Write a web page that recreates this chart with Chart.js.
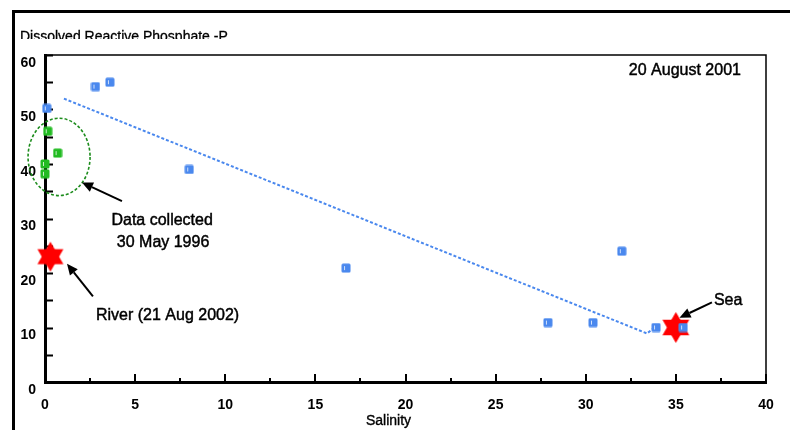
<!DOCTYPE html>
<html>
<head>
<meta charset="utf-8">
<title>Dissolved Reactive Phosphate -P</title>
<script src="https://cdn.jsdelivr.net/npm/chart.js@4.4.1/dist/chart.umd.min.js"></script>
<style>
  html, body { margin: 0; padding: 0; background: #fff; }
  #wrap { position: relative; width: 790px; height: 430px; }
</style>
</head>
<body>
<div id="wrap"><canvas id="chart" width="790" height="430"></canvas></div>
<script>
// 20 Aug 2001 survey: salinity vs dissolved reactive phosphate
const augSalinity  = [0.1, 2.8, 3.6, 8.0, 16.7, 27.9, 30.4, 32.0, 33.9, 35.4];
const augPhosphate = [50.2, 54.2, 55.0, 39.0, 20.9, 10.9, 10.9, 24.0, 10.0, 10.0];

// older samples, 30 May 1996
const maySalinity  = [0.15, 0.7, 0.0, 0.0];
const mayPhosphate = [46.0, 42.0, 40.0, 38.2];

// end members
const riverPoint = [0.3, 23.0];
const seaPoint   = [35.0, 10.0];

// mixing line
const trendSalinity  = [1.05, 33.4, 33.7];
const trendPhosphate = [52.0, 8.9, 9.7];

const xTickValues = [0, 5, 10, 15, 20, 25, 30, 35, 40];
const yTickValues = [0, 10, 20, 30, 40, 50, 60];

// annotation anchors in data units
const mayRing = { x: 0.78, y: 41.3, rx: 1.72, ry: 7.1 };
const arrows = [
  { from: [4.27, 33.2], to: [2.05, 36.6] },
  { from: [2.66, 15.7], to: [1.22, 21.7] },
  { from: [37.0, 14.6], to: [35.2, 11.8] }
];
const notes = [
  { text: 'Data collected', x: 6.5, y: 29.7 },
  { text: '30 May 1996', x: 6.55, y: 25.5 },
  { text: 'River (21 Aug 2002)', x: 6.8, y: 12.1 },
  { text: 'Sea', x: 37.9, y: 14.9 },
  { text: '20 August 2001', x: 35.5, y: 57.1 }
];

const FONT = '"Liberation Sans", Arial, sans-serif';
const BLUE = '#4a88ee';
const GREEN = '#22bb22';

function toXY(xs, ys) {
  return xs.map((x, i) => ({ x, y: ys[i] }));
}

// little rounded square with a pale highlight stroke
function squareMarker(color) {
  const c = document.createElement('canvas');
  c.width = 10; c.height = 10;
  const g = c.getContext('2d');
  g.fillStyle = color;
  g.beginPath();
  g.roundRect(0.5, 0.5, 9, 9, 1.5);
  g.fill();
  g.fillStyle = 'rgba(255,255,255,0.75)';
  g.fillRect(3, 3, 1, 4);
  return c;
}

// six-pointed star
function hexagram(r, color) {
  const c = document.createElement('canvas');
  const s = Math.ceil(r * 2 + 2);
  c.width = s; c.height = s;
  const g = c.getContext('2d');
  g.fillStyle = color;
  const cx = s / 2, cy = s / 2;
  [Math.PI / 2, -Math.PI / 2].forEach(start => {
    g.beginPath();
    for (let k = 0; k < 3; k++) {
      const a = start + k * 2 * Math.PI / 3;
      const px = cx + r * Math.cos(a), py = cy - r * Math.sin(a);
      k === 0 ? g.moveTo(px, py) : g.lineTo(px, py);
    }
    g.closePath();
    g.fill();
  });
  return c;
}

function drawArrow(ctx, x1, y1, x2, y2) {
  const ang = Math.atan2(y2 - y1, x2 - x1);
  const len = 11, half = 5;
  const bx = x2 - len * Math.cos(ang), by = y2 - len * Math.sin(ang);
  ctx.strokeStyle = '#000';
  ctx.lineWidth = 2;
  ctx.beginPath();
  ctx.moveTo(x1, y1);
  ctx.lineTo(bx, by);
  ctx.stroke();
  ctx.fillStyle = '#000';
  ctx.beginPath();
  ctx.moveTo(x2, y2);
  ctx.lineTo(bx + half * Math.sin(ang), by - half * Math.cos(ang));
  ctx.lineTo(bx - half * Math.sin(ang), by + half * Math.cos(ang));
  ctx.closePath();
  ctx.fill();
}

// slightly heavier text than the plain face
function heavyText(ctx, text, x, y) {
  ctx.fillText(text, x, y);
  ctx.strokeText(text, x, y);
}

const decorations = {
  id: 'decorations',
  beforeDraw(chart) {
    const ctx = chart.ctx;
    ctx.save();
    // outer frame (left + top)
    ctx.strokeStyle = '#000';
    ctx.lineWidth = 3;
    ctx.beginPath();
    ctx.moveTo(13.5, 430);
    ctx.lineTo(13.5, 11.5);
    ctx.lineTo(790, 11.5);
    ctx.stroke();
    // title, its lower edge cut off
    ctx.beginPath();
    ctx.rect(0, 0, 790, 39);
    ctx.clip();
    ctx.fillStyle = '#000';
    ctx.lineWidth = 0.3;
    ctx.font = '14px ' + FONT;
    ctx.textAlign = 'left';
    ctx.textBaseline = 'alphabetic';
    heavyText(ctx, 'Dissolved Reactive Phosphate -P', 20, 40.5);
    ctx.restore();
  },
  beforeDatasetsDraw(chart) {
    const { ctx, chartArea: a, scales: { x, y } } = chart;
    ctx.save();
    // thin top/right frame
    ctx.strokeStyle = '#000';
    ctx.lineWidth = 1.5;
    ctx.beginPath();
    ctx.moveTo(a.left, a.top);
    ctx.lineTo(a.right, a.top);
    ctx.lineTo(a.right, a.bottom);
    ctx.stroke();
    // tick marks: y every 5 inward, x majors + minors
    ctx.lineWidth = 2;
    ctx.beginPath();
    for (let v = 5; v <= 60; v += 5) {
      const py = Math.round(y.getPixelForValue(v)) + 0.5;
      ctx.moveTo(a.left, py);
      ctx.lineTo(a.left + 8, py);
    }
    for (let v = 2.5; v <= 40; v += 2.5) {
      const px = Math.round(x.getPixelForValue(v));
      const major = v % 5 === 0;
      ctx.moveTo(px, a.bottom - (major ? 8 : 4));
      ctx.lineTo(px, a.bottom + (major ? 2 : 1));
    }
    ctx.stroke();
    // dashed ring round the 1996 samples
    const cx = x.getPixelForValue(mayRing.x), cy = y.getPixelForValue(mayRing.y);
    const rx = x.getPixelForValue(mayRing.x + mayRing.rx) - cx;
    const ry = cy - y.getPixelForValue(mayRing.y + mayRing.ry);
    ctx.strokeStyle = '#1c8c1c';
    ctx.lineWidth = 1.6;
    ctx.setLineDash([3, 2]);
    ctx.beginPath();
    ctx.ellipse(cx, cy, rx, ry, 0, 0, Math.PI * 2);
    ctx.stroke();
    ctx.restore();
  },
  afterDraw(chart) {
    const { ctx, scales: { x, y } } = chart;
    ctx.save();
    arrows.forEach(ar => drawArrow(ctx,
      x.getPixelForValue(ar.from[0]), y.getPixelForValue(ar.from[1]),
      x.getPixelForValue(ar.to[0]), y.getPixelForValue(ar.to[1])));
    ctx.fillStyle = '#000';
    ctx.strokeStyle = '#000';
    ctx.lineWidth = 0.45;
    ctx.font = '16px ' + FONT;
    ctx.textAlign = 'center';
    ctx.textBaseline = 'middle';
    notes.forEach(n => heavyText(ctx, n.text, x.getPixelForValue(n.x), y.getPixelForValue(n.y)));
    // axis title
    ctx.font = '14px ' + FONT;
    ctx.lineWidth = 0.35;
    heavyText(ctx, 'Salinity', (x.left + x.right) / 2 - 17, 421);
    ctx.restore();
  }
};

const blueMark = squareMarker(BLUE);
const greenMark = squareMarker(GREEN);

new Chart(document.getElementById('chart'), {
  type: 'scatter',
  data: {
    datasets: [
      {
        label: 'trend',
        data: toXY(trendSalinity, trendPhosphate),
        showLine: true,
        borderColor: BLUE,
        borderWidth: 2,
        borderDash: [3, 2],
        pointRadius: 0
      },
      {
        label: '20 August 2001',
        data: toXY(augSalinity, augPhosphate),
        pointStyle: blueMark
      },
      {
        label: '30 May 1996',
        data: toXY(maySalinity, mayPhosphate),
        pointStyle: greenMark
      },
      {
        label: 'River (21 Aug 2002)',
        data: [{ x: riverPoint[0], y: riverPoint[1] }],
        pointStyle: hexagram(15, '#ff0000')
      },
      {
        label: 'Sea',
        data: [{ x: seaPoint[0], y: seaPoint[1] }],
        pointStyle: hexagram(15.5, '#ff0000')
      }
    ]
  },
  options: {
    responsive: false,
    animation: false,
    devicePixelRatio: 1,
    clip: false,
    layout: { padding: { left: 0, top: 55, right: 24, bottom: 0 } },
    plugins: { legend: { display: false }, tooltip: { enabled: false } },
    scales: {
      x: {
        type: 'linear',
        min: 0, max: 40,
        afterBuildTicks: s => { s.ticks = xTickValues.map(v => ({ value: v })); },
        afterFit: s => { s.height = 48; },
        grid: { display: false, drawTicks: false },
        border: { color: '#000', width: 3 },
        ticks: { color: '#000', padding: 15, maxRotation: 0, font: { family: FONT, size: 14, weight: 'bold' } }
      },
      y: {
        type: 'linear',
        min: 0, max: 60,
        afterBuildTicks: s => { s.ticks = yTickValues.map(v => ({ value: v })); },
        afterFit: s => { s.width = 45; },
        grid: { display: false, drawTicks: false },
        border: { color: '#000', width: 3 },
        ticks: { color: '#000', padding: 9, labelOffset: 8, font: { family: FONT, size: 14, weight: 'bold' } }
      }
    }
  },
  plugins: [decorations]
});
</script>
</body>
</html>
